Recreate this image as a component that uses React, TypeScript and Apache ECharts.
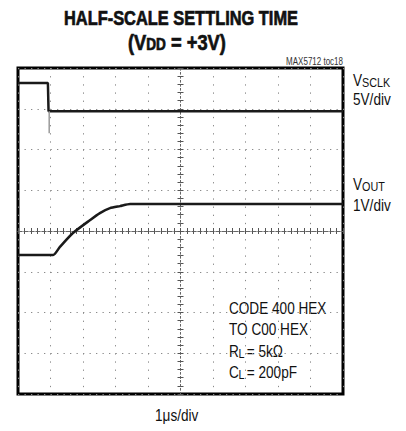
import React, { useEffect, useRef } from "react";
import * as echarts from "echarts";

// time in divisions (1 µs/div), centred on screen: -5 .. 5
// vertical in divisions, centred on screen: -4 .. 4
const sclkTime = [-5, -4.08, -4.06, 5];
const sclkLevel = [3.63, 3.63, 2.94, 2.94];
const spikeTime = [-4.04, -4.04];
const spikeLevel = [2.94, 2.4];
const voutTime = [-5, -3.92, -3.71, -3.31, -2.78, -2.48, -2.17, -1.86, -1.55, 5];
const voutLevel = [-0.59, -0.59, -0.39, -0.05, 0.27, 0.44, 0.56, 0.61, 0.66, 0.66];

const titleLine1 = "HALF-SCALE SETTLING TIME";
const noteLines = ["CODE 400 HEX", "TO C00 HEX"];

const FONT = "'Liberation Sans', Arial, sans-serif";
const SX = 0.8;

const pairs = (xs: number[], ys: number[]) => xs.map((x, i) => [x, ys[i]]);

export default function App() {
  const ref = useRef<HTMLDivElement>(null);
  useEffect(() => {
    if (!ref.current) return;
    const chart = echarts.init(ref.current, null, { renderer: "svg" });
    const gridCol = "#8a8a8a";
    const centerAxis = (pos: string, dotted: boolean) => ({
      type: "value",
      position: pos,
      axisLine: {
        show: true,
        onZero: true,
        lineStyle: { color: "#666", width: 1, type: dotted ? [1.5, 2.5] : [4, 2] },
      },
      axisTick: { show: true, length: 3, lineStyle: { color: "#555", width: 1 } },
      minorTick: { show: true, splitNumber: 5, length: 3, lineStyle: { color: "#555", width: 1 } },
      axisLabel: { show: false },
    });
    const txt = (text: string, x: number, y: number, size: number, extra: any = {}, sx: number = SX) => ({
      type: "text",
      x,
      y,
      scaleX: sx,
      style: {
        text,
        fontFamily: FONT,
        fontSize: size,
        fill: "#111",
        verticalAlign: "middle",
        align: "left",
        ...extra,
      },
    });
    const bold = { fontWeight: "bold", stroke: "#111", lineWidth: 0.7 };
    chart.setOption({
      animation: false,
      grid: {
        left: 18,
        right: 63,
        top: 68,
        bottom: 37,
        show: true,
        borderColor: "#000",
        borderWidth: 3,
        backgroundColor: "transparent",
      },
      xAxis: [
        {
          ...centerAxis("bottom", false),
          min: -5,
          max: 5,
          interval: 1,
          splitLine: { show: true, lineStyle: { color: gridCol, width: 1, type: [1.3, 6.85] } },
        },
        { ...centerAxis("top", false), min: -5, max: 5, interval: 1, splitLine: { show: false } },
      ],
      yAxis: [
        {
          ...centerAxis("left", true),
          min: -4,
          max: 4,
          interval: 1,
          splitLine: { show: true, lineStyle: { color: gridCol, width: 1, type: [1.3, 5.2] } },
        },
        { ...centerAxis("right", true), min: -4, max: 4, interval: 1, splitLine: { show: false } },
      ],
      series: [
        {
          type: "line",
          data: pairs(sclkTime, sclkLevel),
          symbol: "none",
          lineStyle: { color: "#1a1a1a", width: 2.5 },
        },
        {
          type: "line",
          data: pairs(spikeTime, spikeLevel),
          symbol: "none",
          lineStyle: { color: "#9a9a9a", width: 1.5 },
        },
        {
          type: "line",
          data: pairs(voutTime, voutLevel),
          symbol: "none",
          smooth: 0.2,
          lineStyle: { color: "#1a1a1a", width: 2.5 },
        },
      ],
      graphic: [
        txt(titleLine1, 181, 18, 20.5, { ...bold, align: "center" }),
        txt("(V", 128, 42, 21.5, bold, 0.85),
        txt("DD", 146.3, 45, 16, bold, 0.85),
        txt(" = +3V)", 165.9, 42, 21.5, bold, 0.85),
        txt("MAX5712 toc18", 343, 62, 10, { align: "right", fill: "#333" }),
        txt("V", 353, 80, 17),
        txt("SCLK", 362, 83, 13.5),
        txt("5V/div", 353, 99, 17),
        txt("V", 353, 184, 17),
        txt("OUT", 362, 187, 13.5),
        txt("1V/div", 353, 205, 17),
        txt(noteLines[0], 229, 308, 17),
        txt(noteLines[1], 229, 329, 17),
        txt("R", 229, 351, 17),
        txt("L", 238.5, 354, 13.5),
        txt(" = 5kΩ", 243, 351, 17),
        txt("C", 229, 372, 17),
        txt("L", 238.5, 375, 13.5),
        txt(" = 200pF", 243, 372, 17),
        txt("1μs/div", 155, 415, 17),
      ],
    });
    return () => chart.dispose();
  }, []);
  return <div ref={ref} style={{ width: 406, height: 431, position: "absolute", left: 0, top: 0 }} />;
}
